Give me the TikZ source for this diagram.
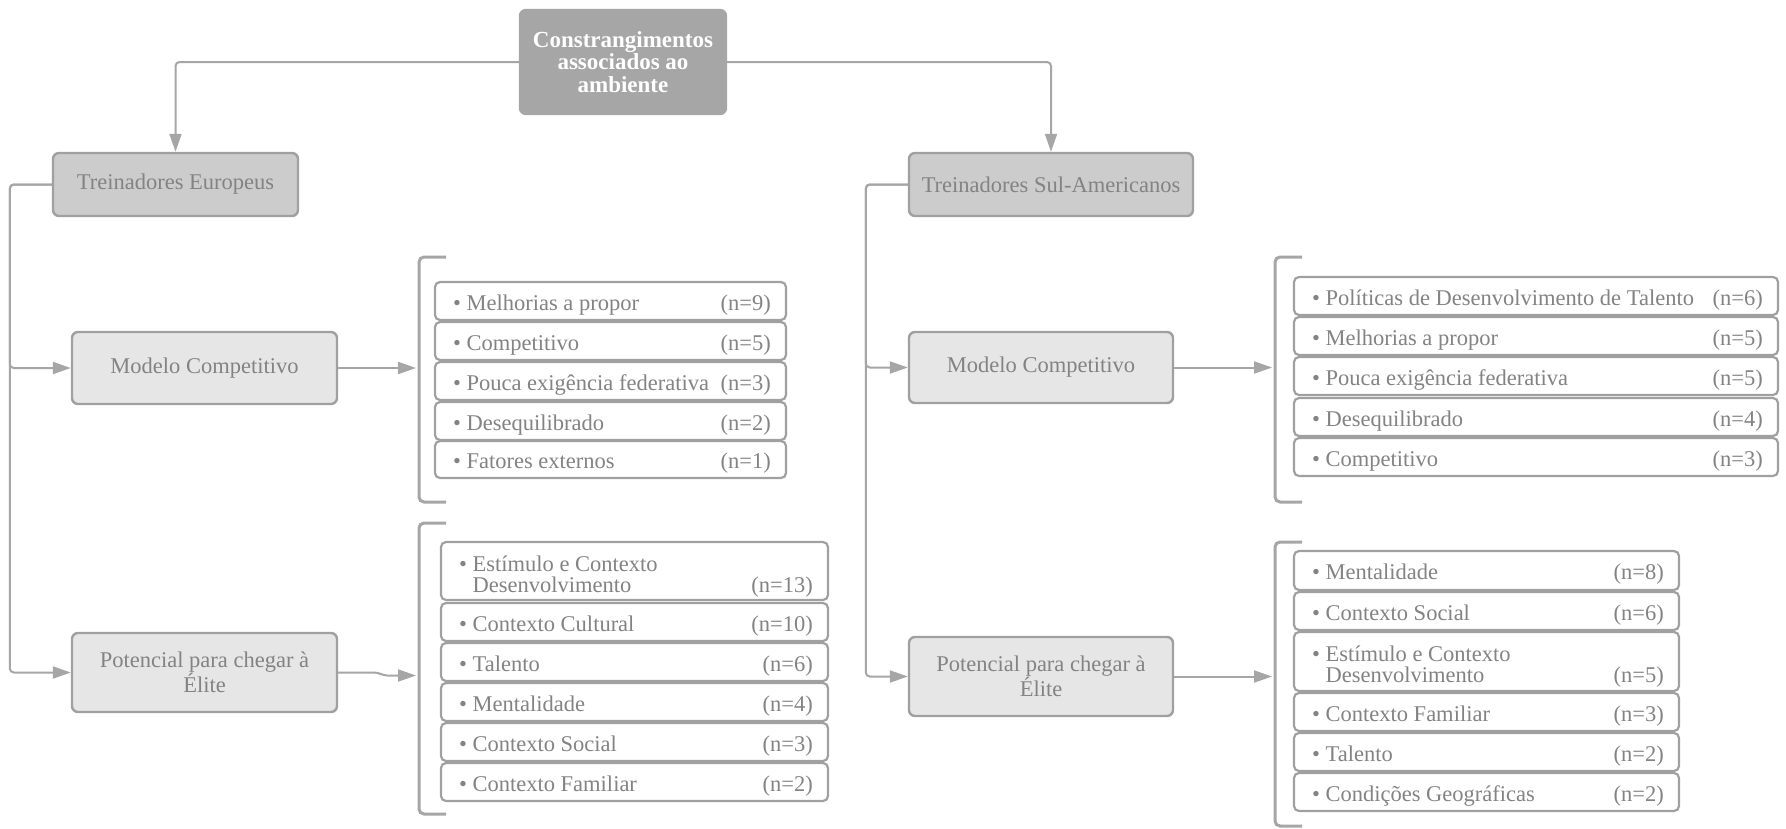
\documentclass[tikz,border=0pt]{standalone}
\usepackage{fontspec}
\setmainfont{Liberation Serif}
\usetikzlibrary{arrows.meta}
\definecolor{cinzaescuro}{HTML}{A6A6A6}
\definecolor{cinzamedio}{HTML}{CCCCCC}
\definecolor{cinzaclaro}{HTML}{E6E6E6}
\definecolor{borda}{HTML}{A0A0A0}
\definecolor{texto}{HTML}{838383}
\tikzset{
	caixa/.style={draw=borda, line width=2.4pt, rounded corners=6pt, align=center, inner sep=2pt, text=texto, font=\fontsize{22.5}{24}\selectfont},
	topo/.style={caixa, fill=cinzaescuro, draw=cinzaescuro, text=white, font=\bfseries\fontsize{23}{22.5}\selectfont},
	grupo/.style={caixa, fill=cinzamedio},
	tema/.style={caixa, fill=cinzaclaro},
	seta/.style={draw=cinzaescuro, line width=2pt, rounded corners=4pt, -{Triangle[length=18pt,width=12pt]}},
	chavelinha/.style={draw=cinzaescuro, line width=3pt, rounded corners=5pt},
	itemcaixa/.style={draw=borda, line width=2.2pt, rounded corners=5pt, fill=white, inner sep=0pt},
	itemtexto/.style={inner sep=0pt, text=texto, font=\fontsize{22.5}{24}\selectfont}
}
\newcommand{\chave}[3]{\draw[chavelinha] ({#1+27},#2) -- (#1,#2) -- (#1,#3) -- ({#1+27},#3)}
\newcommand{\entrada}[7]{
	\node[itemcaixa, minimum width={#3-#2}, minimum height={#5-#4}] (#1) at ({(#2+#3)/2},{(#4+#5)/2}) {};
	\node[itemtexto, anchor=base west] (#1t) at ([xshift=19pt,yshift=-9pt]#1.west) {\textbullet\ #6};
	\node[itemtexto, anchor=base east] (#1n) at ([xshift=-16pt,yshift=-9pt]#1.east) {(n=#7)};
}
\newcommand{\entradadupla}[8]{
	\node[itemcaixa, minimum width={#3-#2}, minimum height={#5-#4}] (#1) at ({(#2+#3)/2},{(#4+#5)/2}) {};
	\node[itemtexto, anchor=base west] (#1t) at ([xshift=19pt]#1.west) {\textbullet\ #6};
	\node[itemtexto, anchor=base west] (#1u) at ([xshift=19pt,yshift=-21pt]#1.west) {\hphantom{\textbullet\ }#7};
	\node[itemtexto, anchor=base east] (#1n) at ([xshift=-16pt,yshift=-21pt]#1.east) {(n=#8)};
}

\begin{document}
\begin{tikzpicture}[x=1pt,y=-1pt]
	\fill[white] (0,0) rectangle (1786,828);
	\useasboundingbox (0,0) rectangle (1786,828);

	\node[topo, minimum width=206pt, minimum height=104pt] (amb) at (623,62) {Constrangimentos\\associados ao\\ambiente};
	\node[grupo, minimum width=245pt, minimum height=63pt] (eur) at (175.5,184.5) {Treinadores Europeus};
	\node[grupo, minimum width=284pt, minimum height=63pt] (sul) at (1051,184.5) {Treinadores Sul-Americanos};
	\node[tema, minimum width=265pt, minimum height=72pt] (modE) at (204.5,368) {Modelo Competitivo};
	\node[tema, minimum width=265pt, minimum height=79pt] (potE) at (204.5,672.5) {Potencial para chegar à\\Élite};
	\node[tema, minimum width=264pt, minimum height=71pt] (modS) at (1041,367.5) {Modelo Competitivo};
	\node[tema, minimum width=264pt, minimum height=79pt] (potS) at (1041,676.5) {Potencial para chegar à\\Élite};

	\draw[seta] (amb.west) -| (eur.north);
	\draw[seta] (amb.east) -| (sul.north);
	\draw[seta] (eur.west) -- ++(-42,0) |- (modE.west);
	\draw[seta] (eur.west) -- ++(-42,0) |- (potE.west);
	\draw[seta] (sul.west) -- ++(-42,0) |- (modS.west);
	\draw[seta] (sul.west) -- ++(-42,0) |- (potS.west);

	\chave{419}{257}{502};
	\chave{419}{523}{814};
	\chave{1275}{257}{502};
	\chave{1275}{542}{826};
	\coordinate (chaveA) at (416,368);
	\coordinate (chaveB) at (416,675.5);
	\coordinate (chaveC) at (1272,367.5);
	\coordinate (chaveD) at (1272,676.5);

	\draw[seta] (modE.east) -- (chaveA);
	\draw[seta] (potE.east) -- ++(40,0) -- ++(5,3) -- (chaveB);
	\draw[seta] (modS.east) -- (chaveC);
	\draw[seta] (potS.east) -- (chaveD);

	\entrada{a1}{435}{786}{282}{320}{Melhorias a propor}{9}
	\entrada{a2}{435}{786}{322}{360}{Competitivo}{5}
	\entrada{a3}{435}{786}{362}{400}{Pouca exigência federativa}{3}
	\entrada{a4}{435}{786}{402}{440}{Desequilibrado}{2}
	\entrada{a5}{435}{786}{441}{478}{Fatores externos}{1}

	\entradadupla{b1}{441}{828}{542}{600}{Estímulo e Contexto}{Desenvolvimento}{13}
	\entrada{b2}{441}{828}{603}{641}{Contexto Cultural}{10}
	\entrada{b3}{441}{828}{643}{681}{Talento}{6}
	\entrada{b4}{441}{828}{683}{721}{Mentalidade}{4}
	\entrada{b5}{441}{828}{723}{761}{Contexto Social}{3}
	\entrada{b6}{441}{828}{763}{801}{Contexto Familiar}{2}

	\entrada{c1}{1294}{1778}{277}{315}{Políticas de Desenvolvimento de Talento}{6}
	\entrada{c2}{1294}{1778}{317}{355}{Melhorias a propor}{5}
	\entrada{c3}{1294}{1778}{357}{395}{Pouca exigência federativa}{5}
	\entrada{c4}{1294}{1778}{398}{436}{Desequilibrado}{4}
	\entrada{c5}{1294}{1778}{438}{476}{Competitivo}{3}

	\entrada{d1}{1294}{1679}{551}{590}{Mentalidade}{8}
	\entrada{d2}{1294}{1679}{592}{630}{Contexto Social}{6}
	\entradadupla{d3}{1294}{1679}{632}{691}{Estímulo e Contexto}{Desenvolvimento}{5}
	\entrada{d4}{1294}{1679}{693}{731}{Contexto Familiar}{3}
	\entrada{d5}{1294}{1679}{733}{771}{Talento}{2}
	\entrada{d6}{1294}{1679}{773}{811}{Condições Geográficas}{2}
\end{tikzpicture}
\end{document}
